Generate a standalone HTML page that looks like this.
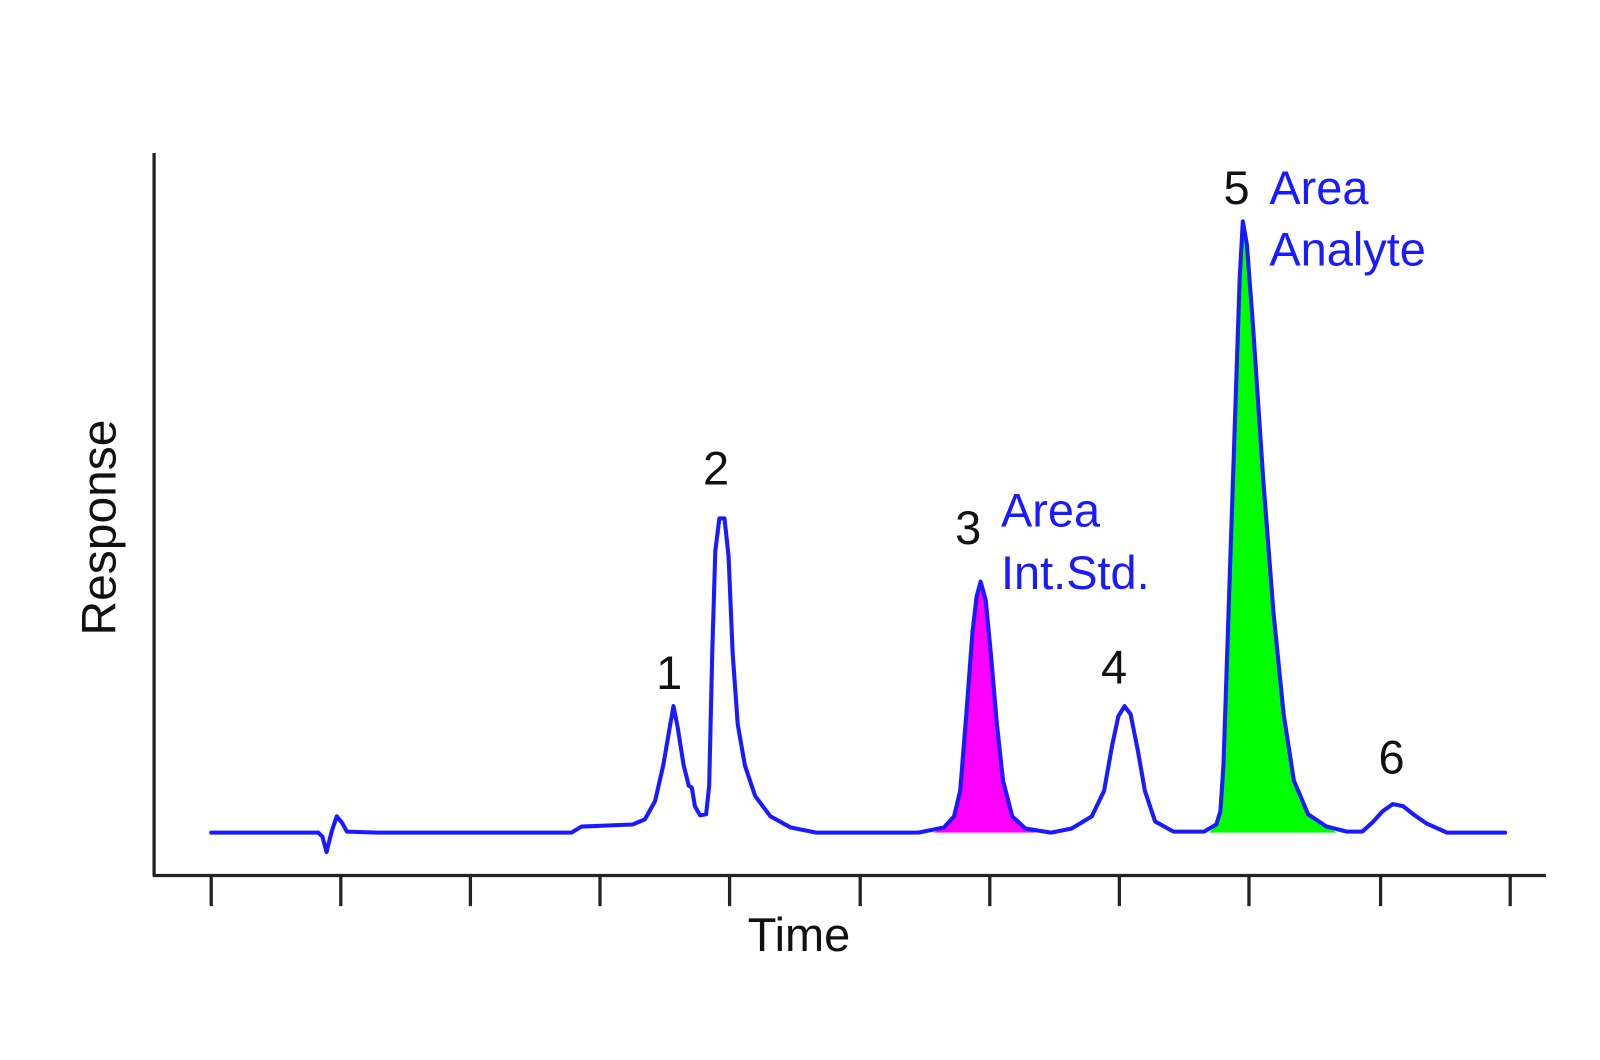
<!DOCTYPE html>
<html><head><meta charset="utf-8"><style>
html,body{margin:0;padding:0;background:#fff;width:1600px;height:1060px;overflow:hidden}
svg text{font-family:"Liberation Sans",Arial,sans-serif}
</style></head><body>
<svg width="1600" height="1060" viewBox="0 0 1600 1060" xmlns="http://www.w3.org/2000/svg">
<rect width="1600" height="1060" fill="#fff"/>
<g transform="scale(1.0204)">
<polygon fill="#ff00ff" points="915,816 930,808 940,780 948,680 955,595 960,570 966,590 972,660 982,760 995,805 1010,814 1015,816"/>
<polygon fill="#00ff00" points="1185,816 1195,805 1200,740 1210,420 1218,215 1225,280 1240,500 1255,680 1268,770 1285,800 1310,816"/>
<g stroke="#222" stroke-width="3.2" fill="none">
<line x1="151" y1="150" x2="151" y2="859"/>
<line x1="150" y1="858" x2="1515" y2="858"/>
<line x1="207" y1="858" x2="207" y2="888"/>
<line x1="334" y1="858" x2="334" y2="888"/>
<line x1="461" y1="858" x2="461" y2="888"/>
<line x1="588" y1="858" x2="588" y2="888"/>
<line x1="715" y1="858" x2="715" y2="888"/>
<line x1="843" y1="858" x2="843" y2="888"/>
<line x1="970" y1="858" x2="970" y2="888"/>
<line x1="1097" y1="858" x2="1097" y2="888"/>
<line x1="1224" y1="858" x2="1224" y2="888"/>
<line x1="1353" y1="858" x2="1353" y2="888"/>
<line x1="1480" y1="858" x2="1480" y2="888"/>
</g>
<polyline fill="none" stroke="#1a1aff" stroke-width="4" stroke-linejoin="round" stroke-linecap="round"
points="207,816 312,816 316,820 320,835 325,815 330,800 335,806 340,815 370,816 560,816 570,810 620,808 632,803 642,785 650,750 656,715 660,692 664,712 670,750 675,770 678,772 681,790 686,799 692,798 695,770 698,640 701,540 705,508 710,508 714,545 718,640 723,710 730,750 740,780 755,800 775,811 800,816 900,816 925,811 935,800 941,775 947,700 953,620 957,585 961,570 966,588 971,640 977,710 983,765 992,800 1005,812 1030,816 1050,812 1070,800 1082,775 1090,730 1096,702 1102,692 1108,700 1115,735 1122,775 1132,805 1150,815 1180,815 1192,808 1196,795 1199,750 1204,600 1210,420 1215,270 1218,217 1222,240 1228,320 1238,470 1248,600 1258,700 1268,765 1282,798 1300,810 1320,815 1335,815 1345,806 1355,795 1365,788 1375,790 1385,798 1398,807 1418,816 1475,816"/>
<g fill="#111" font-size="46">
<text x="643" y="675">1</text>
<text x="689" y="475">2</text>
<text x="936" y="533">3</text>
<text x="1079" y="670">4</text>
<text x="1199" y="200">5</text>
<text x="1351" y="758">6</text>
</g>
<g fill="#1a1aff" font-size="46">
<text x="981" y="516">Area</text>
<text x="981" y="577">Int.Std.</text>
<text x="1244" y="200">Area</text>
<text x="1244" y="260">Analyte</text>
</g>
<text x="783" y="932" font-size="46" fill="#111" text-anchor="middle">Time</text>
<text transform="translate(113,517) rotate(-90)" font-size="47" fill="#111" text-anchor="middle">Response</text>
</g>
</svg>
</body></html>
